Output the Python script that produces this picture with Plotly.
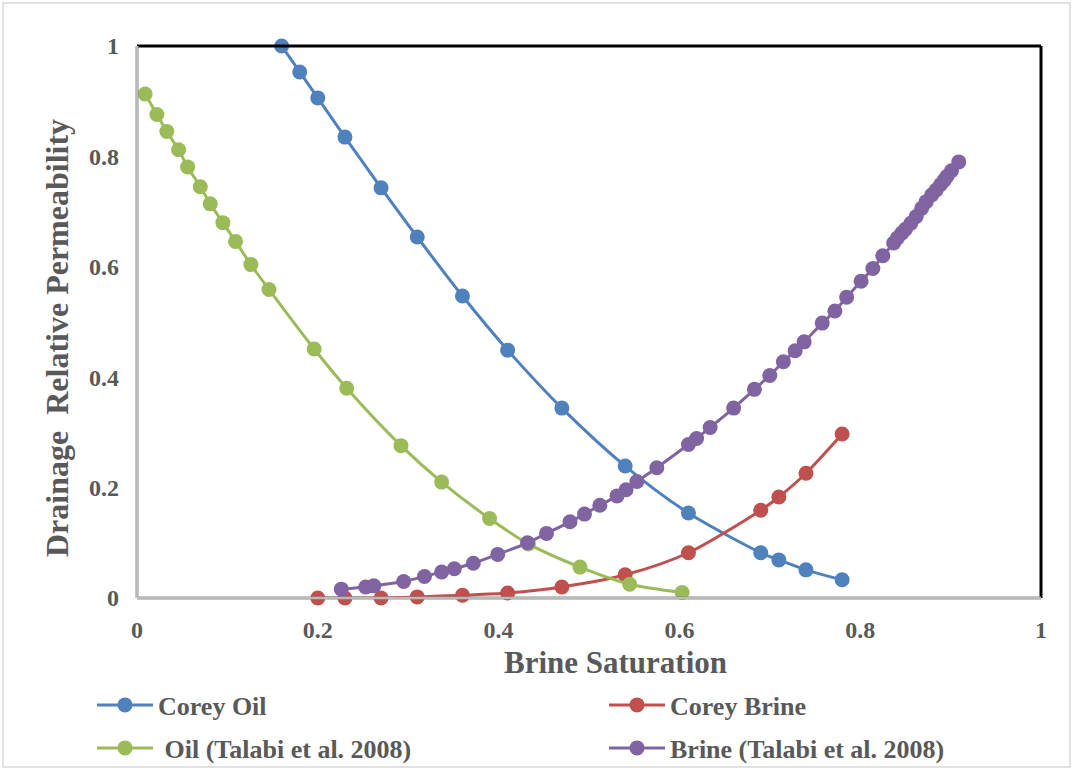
import plotly.graph_objects as go

# Corey model curves
corey_sw = [0.16, 0.18, 0.20, 0.23, 0.27, 0.31, 0.36, 0.41, 0.47, 0.54, 0.61, 0.69, 0.71, 0.74, 0.78]
corey_oil = [1.0, 0.953, 0.906, 0.835, 0.743, 0.654, 0.547, 0.449, 0.344, 0.239, 0.154, 0.082, 0.069, 0.051, 0.033]
corey_brine_sw = [0.20, 0.23, 0.27, 0.31, 0.36, 0.41, 0.47, 0.54, 0.61, 0.69, 0.71, 0.74, 0.78]
corey_brine = [0.0, 0.0, 0.0, 0.002, 0.005, 0.009, 0.020, 0.042, 0.082, 0.159, 0.183, 0.226, 0.297]

# Talabi et al. (2008) data
talabi_oil_sw = [0.009, 0.022, 0.033, 0.046, 0.056, 0.070, 0.081, 0.095, 0.109, 0.126, 0.146,
                 0.196, 0.232, 0.292, 0.337, 0.390, 0.433, 0.490, 0.545, 0.603]
talabi_oil = [0.913, 0.876, 0.845, 0.812, 0.781, 0.745, 0.714, 0.680, 0.646, 0.604, 0.559,
              0.451, 0.380, 0.276, 0.210, 0.144, 0.098, 0.056, 0.025, 0.010]
talabi_brine_sw = [0.226, 0.253, 0.262, 0.295, 0.318, 0.337, 0.351, 0.372, 0.399, 0.432, 0.453,
                   0.479, 0.495, 0.512, 0.531, 0.541, 0.553, 0.575, 0.610, 0.619, 0.634, 0.660,
                   0.683, 0.700, 0.715, 0.728, 0.738, 0.758, 0.772, 0.785, 0.801, 0.814, 0.825,
                   0.837, 0.841, 0.846, 0.850, 0.856, 0.862, 0.868, 0.873, 0.879, 0.884, 0.889,
                   0.893, 0.896, 0.901, 0.909]
talabi_brine = [0.016, 0.020, 0.022, 0.030, 0.039, 0.047, 0.053, 0.063, 0.079, 0.100, 0.117,
                0.138, 0.152, 0.168, 0.185, 0.196, 0.211, 0.236, 0.278, 0.289, 0.309, 0.344,
                0.378, 0.403, 0.428, 0.448, 0.464, 0.498, 0.520, 0.545, 0.574, 0.597, 0.620,
                0.643, 0.652, 0.661, 0.668, 0.679, 0.691, 0.706, 0.718, 0.730, 0.739, 0.749,
                0.757, 0.764, 0.774, 0.790]

x_ticks = [0, 0.2, 0.4, 0.6, 0.8, 1]
y_ticks = [0, 0.2, 0.4, 0.6, 0.8, 1]

BLUE, RED, GREEN, PURPLE = "#4F81BD", "#C0504D", "#9BBB59", "#8064A2"
FONT = "Liberation Serif, Times New Roman, serif"
TXT = "#595959"

W, H = 1073, 770
L, R, T, B = 137, 32, 46, 172
PW, PH = W - L - R, H - T - B


def px_x(p):
    return (p - L) / PW


def px_y(p):
    return (H - B - p) / PH


def series(x, y, name, color, legend):
    return go.Scatter(
        x=x, y=y, name=f"<b>{name}</b>", mode="lines+markers",
        line=dict(color=color, width=3, shape="spline", smoothing=0.8),
        marker=dict(color=color, size=15),
        cliponaxis=False, legend=legend,
    )


fig = go.Figure()
fig.add_trace(series(corey_sw, corey_oil, "Corey Oil", BLUE, "legend"))
fig.add_trace(series(corey_brine_sw, corey_brine, "Corey Brine", RED, "legend2"))
fig.add_trace(series(talabi_oil_sw, talabi_oil, "\u00a0Oil (Talabi et al. 2008)", GREEN, "legend3"))
fig.add_trace(series(talabi_brine_sw, talabi_brine, "Brine (Talabi et al. 2008)", PURPLE, "legend4"))

axis_common = dict(
    range=[0, 1], showgrid=False, zeroline=False, showline=False,
    ticks="", tickfont=dict(family=FONT, size=24, color=TXT),
)
fig.update_xaxes(**axis_common, tickvals=x_ticks, ticktext=[f"<b>{v:g}</b>" for v in x_ticks],
                 ticklabelstandoff=15)
fig.update_yaxes(**axis_common, tickvals=y_ticks, ticktext=[f"<b>{v:g}</b>" for v in y_ticks],
                 ticklabelstandoff=17)

# plot-area frame: dark top/right, grey left/bottom
shapes = [
    dict(type="line", xref="paper", yref="paper", x0=0, x1=1, y0=1, y1=1,
         line=dict(color="black", width=3)),
    dict(type="line", xref="paper", yref="paper", x0=1, x1=1, y0=0, y1=1,
         line=dict(color="black", width=3)),
    dict(type="line", xref="paper", yref="paper", x0=0, x1=0, y0=0, y1=1,
         line=dict(color="#8c8c8c", width=3)),
    dict(type="line", xref="paper", yref="paper", x0=0, x1=1, y0=0, y1=0,
         line=dict(color="#8c8c8c", width=3)),
    dict(type="line", xref="paper", yref="paper", x0=0, x1=0, y0=0, y1=1,
         line=dict(color="#e6e6e6", width=1)),
    dict(type="line", xref="paper", yref="paper", x0=0, x1=1, y0=0, y1=0,
         line=dict(color="#e6e6e6", width=1)),
    # outer chart border
    dict(type="rect", xref="paper", yref="paper", x0=px_x(3), x1=px_x(1070),
         y0=px_y(767), y1=px_y(3), line=dict(color="#d9d9d9", width=1.5), layer="below"),
]

annotations = [
    dict(text="<b>Brine Saturation</b>", xref="paper", yref="paper",
         x=px_x(615), y=px_y(662), showarrow=False, xanchor="center", yanchor="middle",
         font=dict(family=FONT, size=31, color=TXT)),
    dict(text="<b>Drainage\u00a0 Relative Permeability</b>", xref="paper", yref="paper",
         x=px_x(57), y=px_y(338), showarrow=False, xanchor="center", yanchor="middle",
         textangle=-90, font=dict(family=FONT, size=32, color=TXT)),
]

legend_common = dict(
    orientation="h", xanchor="left", yanchor="middle", itemwidth=56,
    bgcolor="rgba(0,0,0,0)", font=dict(family=FONT, size=26, color=TXT), itemclick=False,
)

fig.update_layout(
    width=W, height=H,
    margin=dict(l=L, r=R, t=T, b=B, autoexpand=False),
    paper_bgcolor="white", plot_bgcolor="white",
    font=dict(family=FONT, color=TXT),
    showlegend=True,
    legend=dict(**legend_common, x=px_x(92), y=px_y(705)),
    legend2=dict(**legend_common, x=px_x(604), y=px_y(705)),
    legend3=dict(**legend_common, x=px_x(92), y=px_y(748)),
    legend4=dict(**legend_common, x=px_x(604), y=px_y(748)),
    shapes=shapes, annotations=annotations,
)

fig.write_html("out.html")
